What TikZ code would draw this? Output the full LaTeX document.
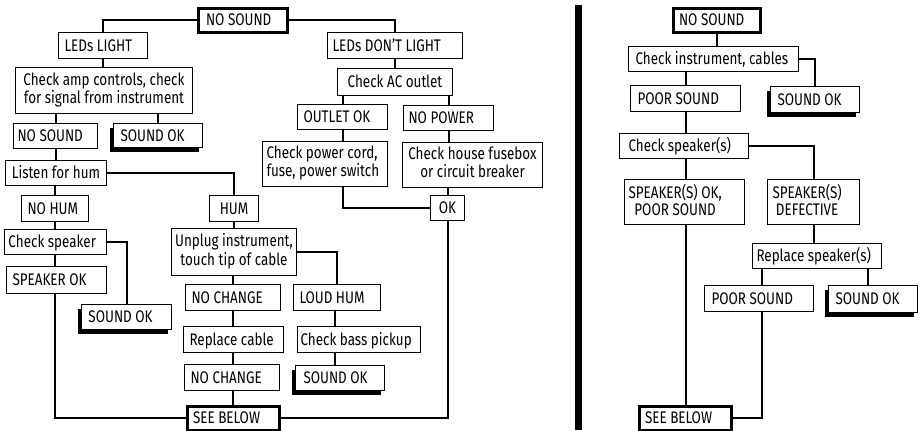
\documentclass[tikz,border=0pt]{standalone}
\usepackage{fontspec}
\setmainfont{Fira Sans}[FakeStretch=0.80]
\usetikzlibrary{shadows}
\newlength\pxu \setlength\pxu{0.75pt}
\newcommand\p[1]{\hspace*{#1\pxu}}
\newcommand\tc[2]{\begin{tabular}{@{}c@{}}#1\\#2\end{tabular}}
\newcommand\tlft[2]{\begin{tabular}{@{}l@{}}#1\\#2\end{tabular}}
\newcommand\bx[7][sl]{%
  \pgfmathsetmacro\bxw{(#5-#3)*0.75}%
  \pgfmathsetmacro\bxh{(#6-#4)*0.75}%
  \node[box,#1,minimum width=\bxw pt,minimum height=\bxh pt,anchor=north west] (#2) at (#3,#4) {\makebox[\bxw pt][l]{#7}};}
\tikzset{
  box/.style={draw,fill=white,line width=0.75pt,inner xsep=0pt,inner ysep=0pt},
  sl/.style={text height=8.6pt,text depth=0pt},
  ml/.style={},
  thickbox/.style={line width=2.25pt},
  shad/.style={general shadow={fill=black,shadow xshift=-3pt,shadow yshift=-3pt}},
  conn/.style={line width=1.5pt}
}
\begin{document}
\begin{tikzpicture}[x=0.75pt,y=-0.75pt,font=\fontsize{12.6}{12.75}\selectfont]
\useasboundingbox (0,0) rectangle (921,430);
% ---- left part
\bx[sl,thickbox]{nsA}{196.5}{6.5}{285.5}{30.5}{\p8NO SOUND}
\bx{ledL}{58}{32}{147}{58}{\p6LEDs LIGHT}
\bx[ml]{amp}{15}{67}{192}{113}{\hfill\tc{Check amp controls, check}{for signal from instrument}\hfill}
\bx{nsB}{13}{123}{97}{148}{\p4NO SOUND}
\bx[sl,shad]{okA}{113}{123}{202}{147}{\p7SOUND OK}
\bx{listen}{5}{160}{106}{185}{\hfill Listen for hum\hfill}
\bx{nohum}{21}{195}{88}{221}{\p6NO HUM}
\bx{hum}{209}{195}{258}{221}{\hfill HUM\hfill}
\bx{chksp}{4}{229}{106}{254}{\p4Check speaker}
\bx{spok}{6}{266}{106}{293}{\p6SPEAKER OK}
\bx[sl,shad]{okB}{81}{304}{171}{329}{\p7SOUND OK}
\bx[ml]{unplug}{171}{228}{296}{275}{\hfill\tc{Unplug instrument,}{touch tip of cable}\hfill}
\bx{ncA}{185}{284}{280}{310}{\p6NO CHANGE}
\bx{loud}{293}{284}{380}{310}{\p6LOUD HUM}
\bx{repc}{183}{326}{283}{352}{\p6Replace cable}
\bx{bass}{297}{326}{420}{352}{\p3Check bass pickup}
\bx{ncB}{184}{364}{279}{390}{\p6NO CHANGE}
\bx[sl,shad]{okC}{295}{365}{384}{390}{\p8SOUND OK}
\bx[sl,thickbox]{seeA}{185.5}{404.5}{277.5}{428.5}{\p6SEE BELOW}
\bx{ledD}{327}{32}{462}{58}{\p5LEDs DON'T LIGHT}
\bx{ac}{337}{68}{452}{95}{\hfill Check AC outlet\hfill}
\bx{outlet}{297}{104}{387}{129}{\p6OUTLET OK}
\bx{nopow}{403}{105}{493}{130}{\p5NO POWER}
\bx[ml]{cord}{262}{141}{387}{186}{\p4\tlft{Check power cord,}{fuse, power switch}}
\bx[ml]{fuse}{402}{142}{542}{187}{\hfill\tc{Check house fusebox}{or circuit breaker}\hfill}
\bx{okbox}{430}{195}{464}{220}{\hfill OK\hfill}
% ---- right part
\fill (575,5) rectangle (582,430);
\bx[sl,thickbox]{nsR}{671.5}{6.5}{758.5}{30.5}{\p6NO SOUND}
\bx{inst}{628}{46}{798}{71}{\p7Check instrument, cables}
\bx[sl,shad]{okR1}{770}{86}{859}{112}{\p7SOUND OK}
\bx{poorA}{630}{85}{740}{111}{\p7POOR SOUND}
\bx{spk}{619}{133}{748}{158}{\p9Check speaker(s)}
\bx[ml]{spkok}{624}{179}{744}{224}{\p4\tc{SPEAKER(S) OK,}{POOR SOUND}}
\bx[ml]{spkdef}{767}{179}{859}{224}{\p5\tc{SPEAKER(S)}{DEFECTIVE}}
\bx{rep}{752}{243}{881}{268}{\p4Replace speaker(s)}
\bx{poorB}{704}{285}{813}{311}{\p7POOR SOUND}
\bx[sl,shad]{okR2}{828}{285}{917}{312}{\p7SOUND OK}
\bx[sl,thickbox]{seeR}{637.5}{404.5}{729.5}{428.5}{\p6SEE BELOW}
% ---- connectors left
\begin{scope}[conn]
\draw (nsA.west) -| (ledL.north);
\draw (nsA.east) -| (ledD.north);
\draw (ledL.south) -- (ledL.south |- amp.north);
\draw (nsB.north |- amp.south) -- (nsB.north);
\draw (okA.north |- amp.south) -- (okA.north);
\draw (nsB.south) -- (nsB.south |- listen.north);
\draw (listen.east) -| (hum.north);
\draw (nohum.north |- listen.south) -- (nohum.north);
\draw (nohum.south) -- (nohum.south |- chksp.north);
\draw (chksp.east) -| (okB.north);
\draw (nohum.south |- chksp.south) -- (nohum.south |- spok.north);
\draw (nohum.south |- spok.south) |- (seeA.west);
\draw (hum.south) -- (hum.south |- unplug.north);
\draw (unplug.east) -| (loud.north);
\draw (ncA.north |- unplug.south) -- (ncA.north);
\draw (ncA.south) -- (ncA.south |- repc.north);
\draw (ncA.south |- repc.south) -- (ncA.south |- ncB.north);
\draw (ncA.south |- ncB.south) -- (ncA.south |- seeA.north);
\coordinate (xl) at (335,0);
\draw (xl |- loud.south) -- (xl |- bass.north);
\draw (xl |- bass.south) -- (xl |- okC.north);
\draw (seeA.east) -| (okbox.south);
\draw (okbox.west) -| (outlet.south |- cord.south);
\draw (ledD.south) -- (ledD.south |- ac.north);
\draw (outlet.north |- ac.south) -- (outlet.north);
\draw (nopow.north |- ac.south) -- (nopow.north);
\draw (outlet.south) -- (outlet.south |- cord.north);
\draw (nopow.south) -- (nopow.south |- fuse.north);
\draw (okbox.north |- fuse.south) -- (okbox.north);
% ---- connectors right
\draw (nsR.south) -- (nsR.south |- inst.north);
\draw (inst.east) -| (okR1.north);
\draw (poorA.north |- inst.south) -- (poorA.north);
\draw (poorA.south) -- (poorA.south |- spk.north);
\draw (spk.east) -| (spkdef.north);
\draw (poorA.south |- spk.south) -- (poorA.south |- spkok.north);
\draw (poorA.south |- spkok.south) -- (poorA.south |- seeR.north);
\draw (spkdef.south) -- (spkdef.south |- rep.north);
\coordinate (xa) at (762,0);
\coordinate (xb) at (868,0);
\draw (xa |- rep.south) -- (xa |- poorB.north);
\draw (xb |- rep.south) -- (xb |- okR2.north);
\draw (xa |- poorB.south) |- (seeR.east);
\end{scope}
\end{tikzpicture}
\end{document}
